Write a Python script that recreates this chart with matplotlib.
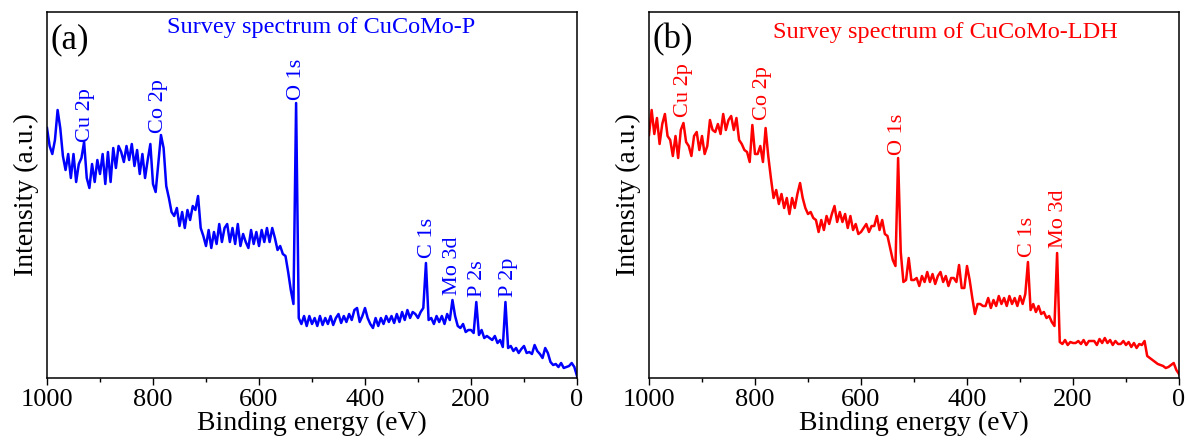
import numpy as np
import matplotlib
matplotlib.use("Agg")
import matplotlib.pyplot as plt
from matplotlib.ticker import MultipleLocator

plt.rcParams['font.family'] = ['Liberation Serif', 'DejaVu Serif']

# binding energy grid (eV), 5 eV steps from 1000 down to 0
energy = np.arange(1000, -1, -5)

# CuCoMo-P survey counts (arb. units)
counts_p = [
    250, 232, 224, 238, 268, 250, 222, 208, 224, 200,
    224, 196, 214, 220, 236, 200, 190, 214, 196, 218,
    204, 224, 194, 226, 196, 230, 210, 232, 226, 216,
    232, 218, 234, 212, 228, 204, 224, 200, 218, 234,
    194, 186, 214, 243, 230, 192, 180, 166, 162, 170,
    152, 166, 150, 168, 158, 172, 168, 182, 150, 142,
    132, 148, 130, 146, 134, 154, 136, 150, 154, 136,
    150, 134, 154, 132, 144, 136, 130, 148, 134, 146,
    132, 148, 136, 150, 136, 150, 140, 128, 132, 124,
    122, 106, 88, 74, 275, 60, 54, 62, 52, 62,
    54, 60, 52, 62, 53, 60, 54, 62, 53, 60,
    64, 55, 62, 56, 64, 58, 68, 70, 56, 62,
    70, 60, 54, 50, 60, 52, 60, 54, 62, 56,
    62, 55, 64, 56, 66, 58, 68, 60, 66, 64,
    60, 66, 70, 115, 58, 60, 54, 62, 56, 62,
    54, 64, 58, 78, 62, 52, 50, 54, 46, 48,
    48, 45, 76, 43, 48, 40, 42, 40, 38, 42,
    35, 38, 31, 76, 30, 32, 27, 30, 25, 29,
    32, 25, 26, 24, 33, 27, 24, 20, 30, 25,
    16, 13, 14, 11, 15, 10, 11, 12, 15, 11,
    2,
]

# CuCoMo-LDH survey counts (arb. units)
counts_ldh = [
    243, 268, 244, 260, 234, 254, 264, 242, 238, 222,
    242, 220, 248, 255, 236, 232, 222, 242, 246, 228,
    242, 224, 232, 258, 248, 246, 254, 244, 264, 248,
    258, 262, 248, 260, 238, 234, 228, 226, 216, 253,
    224, 224, 232, 216, 250, 222, 200, 180, 188, 174,
    184, 170, 180, 164, 180, 170, 184, 195, 180, 170,
    164, 166, 160, 158, 146, 158, 148, 162, 154, 164,
    172, 156, 166, 156, 164, 150, 162, 148, 154, 144,
    146, 150, 154, 146, 152, 152, 162, 148, 158, 144,
    142, 130, 118, 112, 220, 126, 96, 98, 120, 98,
    98, 100, 92, 102, 96, 106, 96, 104, 94, 102,
    106, 96, 102, 92, 100, 100, 96, 113, 90, 90,
    112, 98, 80, 64, 74, 74, 72, 72, 80, 70,
    78, 72, 82, 74, 80, 72, 82, 74, 80, 72,
    82, 74, 84, 116, 68, 74, 66, 72, 64, 66,
    60, 62, 56, 52, 125, 36, 34, 38, 33, 36,
    35, 35, 37, 34, 38, 33, 37, 37, 37, 33,
    39, 35, 40, 35, 38, 33, 37, 34, 34, 37,
    33, 36, 31, 35, 30, 34, 33, 37, 22, 20,
    18, 16, 14, 13, 12, 10, 11, 13, 15, 8,
    4,
]

# peak assignments: (label, energy, label base height)
peaks_p = [("Cu 2p", 928, 236), ("Co 2p", 789, 245), ("O 1s", 530, 278),
           ("C 1s", 282, 120), ("Mo 3d", 234, 83), ("P 2s", 187, 81),
           ("P 2p", 130, 81)]
peaks_ldh = [("Cu 2p", 934, 261), ("Co 2p", 785, 258), ("O 1s", 532, 223),
             ("C 1s", 285, 121), ("Mo 3d", 228, 130)]

W, H = 1189, 448
fig = plt.figure(figsize=(W / 100, H / 100), dpi=100)


def panel(x0, counts, color, tag, title, peaks, title_x, title_y):
    ax = fig.add_axes([x0 / W, (H - 378) / H, 530 / W, 366 / H])
    ax.plot(energy, counts, color=color, lw=1.8)
    ax.set_xlim(1000, 0)
    ax.set_ylim(0, 366)
    ax.set_yticks([])
    ax.xaxis.set_major_locator(MultipleLocator(200))
    ax.xaxis.set_minor_locator(MultipleLocator(100))
    ax.tick_params(axis='x', which='major', direction='out', length=5,
                   width=1, labelsize=19, pad=3)
    ax.tick_params(axis='x', which='minor', direction='out', length=3, width=1)
    for s in ax.spines.values():
        s.set_linewidth(1.1)
    ax.set_xlabel("Binding energy (eV)", fontsize=20, labelpad=0)
    ax.set_ylabel("Intensity (a.u.)", fontsize=20, labelpad=6)
    ax.text(0.006, 0.923, tag, transform=ax.transAxes, fontsize=25,
            va='center', ha='left')
    ax.text(title_x, title_y, title, transform=ax.transAxes, color=color,
            fontsize=17.5, va='center', ha='left')
    for name, e, h in peaks:
        ax.text(e, h, name, rotation=90, color=color, fontsize=16,
                ha='center', va='bottom')
    return ax


panel(47, counts_p, '#0000ff', '(a)', 'Survey spectrum of CuCoMo-P',
      peaks_p, 0.226, 0.959)
panel(649, counts_ldh, '#ff0000', '(b)', 'Survey spectrum of CuCoMo-LDH',
      peaks_ldh, 0.234, 0.943)

fig.savefig("out.png", dpi=100)
